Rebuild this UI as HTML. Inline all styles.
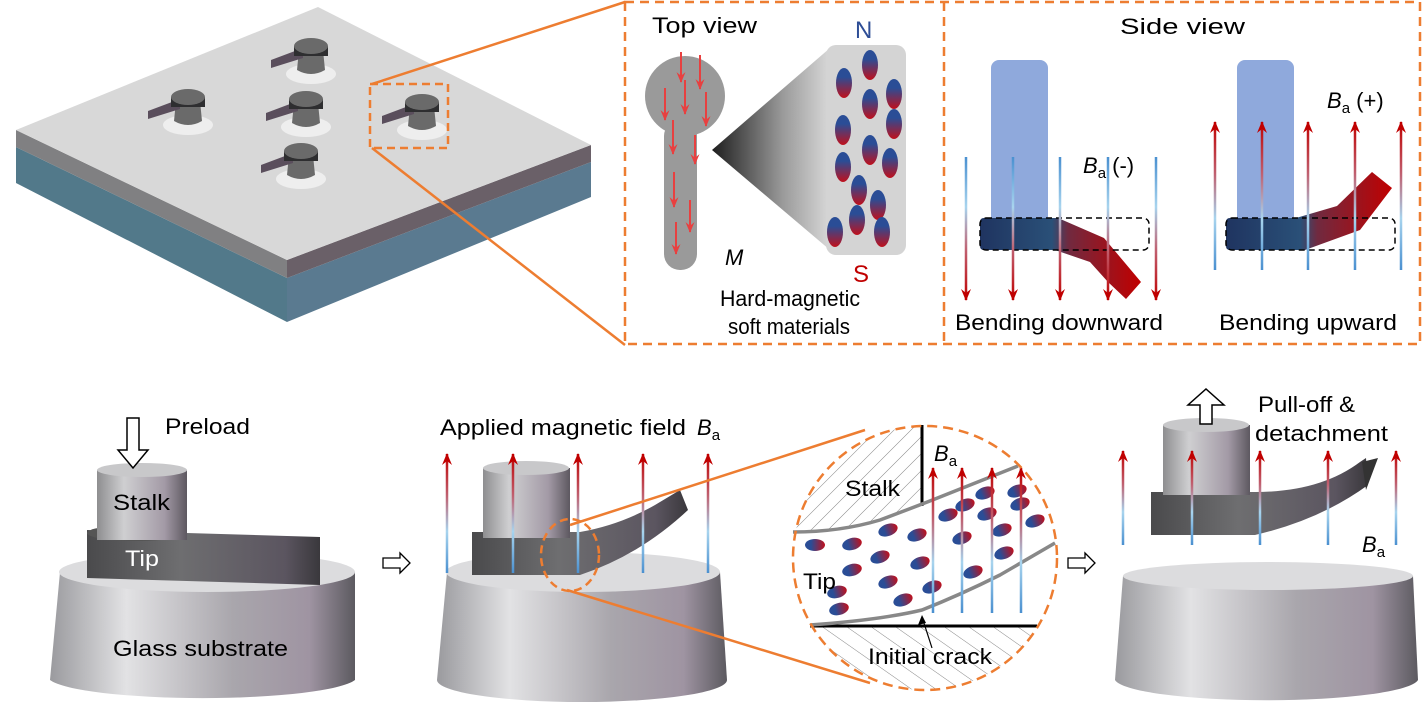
<!DOCTYPE html>
<html><head><meta charset="utf-8"><style>
html,body{margin:0;padding:0;background:#fff;}
svg{display:block;font-family:"Liberation Sans",Arial,sans-serif;}
</style></head><body>
<svg width="1424" height="707" viewBox="0 0 1424 707" xmlns="http://www.w3.org/2000/svg">
<defs>
<linearGradient id="cyl" x1="0" x2="1" y1="0" y2="0">
<stop offset="0" stop-color="#9a9a9e"/><stop offset="0.25" stop-color="#e2e2e4"/><stop offset="0.6" stop-color="#a9a6ac"/><stop offset="0.85" stop-color="#9f94a2"/><stop offset="1" stop-color="#5c5a60"/></linearGradient>
<linearGradient id="stalk" x1="0" x2="1"><stop offset="0" stop-color="#8e8e90"/><stop offset="0.3" stop-color="#cfcfd1"/><stop offset="0.75" stop-color="#a39aa6"/><stop offset="1" stop-color="#5d5860"/></linearGradient>
<linearGradient id="tip" x1="0" x2="1"><stop offset="0" stop-color="#4a4a4c"/><stop offset="0.4" stop-color="#6e6e70"/><stop offset="0.85" stop-color="#5b5560"/><stop offset="1" stop-color="#3a383c"/></linearGradient>
<linearGradient id="upA" x1="0" y1="1" x2="0" y2="0"><stop offset="0" stop-color="#4a90d0"/><stop offset="0.35" stop-color="#a8d4ee"/><stop offset="0.65" stop-color="#c06070"/><stop offset="1" stop-color="#c00000"/></linearGradient>
<linearGradient id="dnA" x1="0" y1="0" x2="0" y2="1"><stop offset="0" stop-color="#4a90d0"/><stop offset="0.35" stop-color="#a8d4ee"/><stop offset="0.65" stop-color="#c06070"/><stop offset="1" stop-color="#c00000"/></linearGradient>
<linearGradient id="part" x1="0" y1="0" x2="0" y2="1"><stop offset="0.3" stop-color="#2a4d96"/><stop offset="1" stop-color="#c0101c"/></linearGradient>
<linearGradient id="partH" x1="0" y1="0" x2="1" y2="0"><stop offset="0.3" stop-color="#2a4d96"/><stop offset="1" stop-color="#c0101c"/></linearGradient>
<linearGradient id="cone" x1="0" x2="1"><stop offset="0" stop-color="#1e1e1e"/><stop offset="0.6" stop-color="#9a9a9a"/><stop offset="1" stop-color="#d8d8d8"/></linearGradient>
<linearGradient id="beamL" x1="980" x2="1140" y1="0" y2="0" gradientUnits="userSpaceOnUse"><stop offset="0" stop-color="#1f3460"/><stop offset="0.45" stop-color="#2a5078"/><stop offset="0.55" stop-color="#702a40"/><stop offset="1" stop-color="#c00000"/></linearGradient>
<linearGradient id="beamR" x1="1226" x2="1392" y1="0" y2="0" gradientUnits="userSpaceOnUse"><stop offset="0" stop-color="#1f3460"/><stop offset="0.45" stop-color="#2a5078"/><stop offset="0.55" stop-color="#702a40"/><stop offset="1" stop-color="#c00000"/></linearGradient>
<pattern id="hatch" width="12" height="12" patternUnits="userSpaceOnUse" patternTransform="rotate(45)"><line x1="0" y1="0" x2="0" y2="12" stroke="#888" stroke-width="1"/></pattern>
<pattern id="hatch2" width="14" height="14" patternUnits="userSpaceOnUse" patternTransform="rotate(-55)"><line x1="0" y1="0" x2="0" y2="14" stroke="#888" stroke-width="1"/></pattern>
<clipPath id="zc"><circle cx="925" cy="558" r="132"/></clipPath>
<marker id="rh" viewBox="0 0 12 10" refX="11" refY="5" markerWidth="13" markerHeight="10" orient="auto" markerUnits="userSpaceOnUse"><path d="M0,0 L12,5 L0,10 L4,5 Z" fill="#c00000"/></marker>
<marker id="rh2" viewBox="0 0 12 10" refX="11" refY="5" markerWidth="11" markerHeight="9" orient="auto" markerUnits="userSpaceOnUse"><path d="M0,0 L12,5 L0,10 L4,5 Z" fill="#e84040"/></marker>
<g id="post">
<ellipse cx="0" cy="28" rx="25" ry="10" fill="#eee"/>
<path d="M-12,4 L-14,24 Q0,32 14,24 L12,4 Z" fill="#6a6a6a"/>
<path d="M-40,14 L-8,2 L-8,12 L-40,22 Z" fill="#5a4e5c"/>
<rect x="-17" y="0" width="34" height="10" fill="#2e2e30"/>
<ellipse cx="0" cy="0" rx="17" ry="8" fill="#6a6a6a"/>
</g>
</defs>

<!-- top-left plate -->
<polygon points="16,147 287,278 287,322 16,183" fill="#52798a"/>
<polygon points="287,278 591,162 591,197 287,322" fill="#5a7a90"/>
<polygon points="16,130 287,260 287,278 16,147" fill="#808082"/>
<polygon points="287,260 591,145 591,162 287,278" fill="#6a6068"/>
<polygon points="16,130 318,7 591,145 287,260" fill="#d8d8d8"/>
<use href="#post" x="188" y="97"/>
<use href="#post" x="311" y="46"/>
<use href="#post" x="306" y="99"/>
<use href="#post" x="301" y="151"/>
<use href="#post" x="422" y="102"/>
<rect x="370" y="84" width="78" height="64" fill="none" stroke="#ed7d31" stroke-width="2.5" stroke-dasharray="8,5"/>
<line x1="372" y1="84" x2="625" y2="2" stroke="#ed7d31" stroke-width="2.5"/>
<line x1="372" y1="148" x2="625" y2="345" stroke="#ed7d31" stroke-width="2.5"/>

<!-- big dashed box -->
<rect x="625" y="2" width="795" height="342" fill="none" stroke="#ed7d31" stroke-width="2.5" stroke-dasharray="9,6"/>
<line x1="944" y1="2" x2="944" y2="344" stroke="#ed7d31" stroke-width="2.5" stroke-dasharray="9,6"/>

<!-- Top view -->
<text x="652" y="33" font-size="22" textLength="105" lengthAdjust="spacingAndGlyphs">Top view</text>
<polygon points="712,150 830,48 830,250" fill="url(#cone)"/>
<rect x="826" y="45" width="80" height="210" rx="10" fill="#d4d4d4"/>
<circle cx="685" cy="96" r="40" fill="#9a9a9a"/>
<rect x="664" y="120" width="33" height="150" rx="16" fill="#9a9a9a"/>
<g stroke="#e84040" stroke-width="2" fill="none" marker-end="url(#rh2)">
<line x1="681" y1="52" x2="681" y2="82"/><line x1="700" y1="55" x2="700" y2="89"/>
<line x1="665" y1="88" x2="665" y2="120"/><line x1="685" y1="80" x2="685" y2="114"/><line x1="706" y1="92" x2="706" y2="126"/>
<line x1="673" y1="120" x2="673" y2="154"/><line x1="695" y1="135" x2="695" y2="164"/>
<line x1="674" y1="172" x2="674" y2="207"/><line x1="690" y1="200" x2="690" y2="232"/><line x1="676" y1="222" x2="676" y2="254"/>
</g>
<g fill="url(#part)">
<ellipse cx="844" cy="83" rx="8" ry="15"/><ellipse cx="870" cy="65" rx="8" ry="15"/><ellipse cx="894" cy="94" rx="8" ry="15"/>
<ellipse cx="870" cy="104" rx="8" ry="15"/><ellipse cx="843" cy="130" rx="8" ry="15"/><ellipse cx="894" cy="124" rx="8" ry="15"/>
<ellipse cx="870" cy="150" rx="8" ry="15"/><ellipse cx="843" cy="167" rx="8" ry="15"/><ellipse cx="890" cy="163" rx="8" ry="15"/>
<ellipse cx="859" cy="190" rx="8" ry="15"/><ellipse cx="878" cy="205" rx="8" ry="15"/><ellipse cx="857" cy="220" rx="8" ry="15"/>
<ellipse cx="835" cy="232" rx="8" ry="15"/><ellipse cx="882" cy="232" rx="8" ry="15"/>
</g>
<text x="855" y="38" font-size="24" fill="#2e4e96">N</text>
<text x="853" y="282" font-size="24" fill="#c00000">S</text>
<text x="725" y="265" font-size="22" font-style="italic">M</text>
<text x="720" y="306" font-size="22" textLength="140" lengthAdjust="spacingAndGlyphs">Hard-magnetic</text>
<text x="728" y="334" font-size="22" textLength="122" lengthAdjust="spacingAndGlyphs">soft materials</text>

<!-- Side view -->
<text x="1120" y="34" font-size="22" textLength="125" lengthAdjust="spacingAndGlyphs">Side view</text>
<rect x="991" y="60" width="57" height="175" rx="8" fill="#8fa9dc"/>
<rect x="1237" y="60" width="57" height="175" rx="8" fill="#8fa9dc"/>
<path d="M984,218 L1058,218 L1104,238 L1141,282 L1126,299 L1108,282 L1090,262 L1055,250 L984,250 Q980,250 980,246 L980,222 Q980,218 984,218Z" fill="url(#beamL)"/>
<path d="M1230,218 L1296,218 L1337,206 L1372,172 L1392,188 L1360,230 L1305,250 L1230,250 Q1226,250 1226,246 L1226,222 Q1226,218 1230,218Z" fill="url(#beamR)"/>
<rect x="980" y="218" width="169" height="32" rx="6" fill="none" stroke="#000" stroke-width="1.5" stroke-dasharray="6,4"/>
<rect x="1226" y="218" width="169" height="32" rx="6" fill="none" stroke="#000" stroke-width="1.5" stroke-dasharray="6,4"/>
<g stroke="url(#dnA)" stroke-width="2.5" marker-end="url(#rh)">
<line x1="966" y1="157" x2="966.01" y2="300"/><line x1="1013" y1="157" x2="1013.01" y2="300"/><line x1="1060" y1="157" x2="1060.01" y2="300"/><line x1="1108" y1="157" x2="1108.01" y2="300"/><line x1="1156" y1="157" x2="1156.01" y2="300"/>
</g>
<g stroke="url(#upA)" stroke-width="2.5" marker-end="url(#rh)">
<line x1="1215" y1="270" x2="1215.01" y2="122"/><line x1="1262" y1="270" x2="1262.01" y2="122"/><line x1="1308" y1="270" x2="1308.01" y2="122"/><line x1="1355" y1="270" x2="1355.01" y2="122"/><line x1="1401" y1="270" x2="1401.01" y2="122"/>
</g>
<text x="1083" y="173" font-size="22"><tspan font-style="italic">B</tspan><tspan font-size="15" dy="5">a</tspan><tspan dy="-5"> (-)</tspan></text>
<text x="1327" y="108" font-size="22"><tspan font-style="italic">B</tspan><tspan font-size="15" dy="5">a</tspan><tspan dy="-5"> (+)</tspan></text>
<text x="955" y="330" font-size="22" textLength="208" lengthAdjust="spacingAndGlyphs">Bending downward</text>
<text x="1219" y="330" font-size="22" textLength="178" lengthAdjust="spacingAndGlyphs">Bending upward</text>

<!-- Panel 1 -->
<path d="M60,572 L50,680 A155,22 0 0 0 355,680 L355,572 Z" fill="url(#cyl)"/>
<ellipse cx="207" cy="572" rx="148" ry="20" fill="#dcdcde"/>
<path d="M87,530 L320,537 L320,585 L87,578 Z" fill="url(#tip)"/>
<ellipse cx="136" cy="533" rx="49" ry="8" fill="#555"/>
<path d="M97,470 L187,470 L187,540 L97,540 Z" fill="url(#stalk)"/>
<ellipse cx="142" cy="470" rx="45" ry="7" fill="#c8c8ca"/>
<path d="M127,418 L139,418 L139,450 L148,450 L133,468 L118,450 L127,450 Z" fill="#fff" stroke="#000" stroke-width="1.5"/>
<text x="165" y="434" font-size="22" textLength="85" lengthAdjust="spacingAndGlyphs">Preload</text>
<text x="113" y="510" font-size="22" textLength="57" lengthAdjust="spacingAndGlyphs">Stalk</text>
<text x="125" y="566" font-size="22" fill="#fff" textLength="34" lengthAdjust="spacingAndGlyphs">Tip</text>
<text x="113" y="656" font-size="22" textLength="175" lengthAdjust="spacingAndGlyphs">Glass substrate</text>
<path d="M383,558 L400,558 L400,553 L410,563 L400,573 L400,568 L383,568 Z" fill="#fff" stroke="#000" stroke-width="1.3"/>

<!-- Panel 2 -->
<path d="M447,572 L437,680 A145,22 0 0 0 727,680 L720,572 Z" fill="url(#cyl)"/>
<ellipse cx="583" cy="572" rx="137" ry="20" fill="#dcdcde"/>
<path d="M472,532 L580,532 Q620,525 655,505 L680,490 L688,510 Q640,555 580,575 L472,575 Z" fill="url(#tip)"/>
<path d="M483,468 L570,468 L570,538 L483,538 Z" fill="url(#stalk)"/>
<ellipse cx="526" cy="468" rx="43" ry="7" fill="#c8c8ca"/>
<g stroke="url(#upA)" stroke-width="2.5" marker-end="url(#rh)">
<line x1="447" y1="573" x2="447.01" y2="454"/><line x1="513" y1="573" x2="513.01" y2="454"/><line x1="578" y1="573" x2="578.01" y2="454"/><line x1="643" y1="573" x2="643.01" y2="454"/><line x1="708" y1="573" x2="708.01" y2="454"/>
</g>
<text x="440" y="435" font-size="22" textLength="246" lengthAdjust="spacingAndGlyphs">Applied magnetic field</text>
<text x="697" y="435" font-size="22"><tspan font-style="italic">B</tspan><tspan font-size="15" dy="5">a</tspan></text>
<ellipse cx="570" cy="555" rx="29" ry="36" fill="none" stroke="#ed7d31" stroke-width="2.5" stroke-dasharray="8,5"/>
<line x1="570" y1="525" x2="865" y2="430" stroke="#ed7d31" stroke-width="2.5"/>
<line x1="567" y1="590" x2="870" y2="683" stroke="#ed7d31" stroke-width="2.5"/>

<!-- zoom circle -->
<circle cx="925" cy="558" r="132" fill="#fff"/>
<g clip-path="url(#zc)">
<path d="M780,420 L922,420 L922,506 Q880,520 840,528 L780,532 Z" fill="url(#hatch)"/>
<rect x="780" y="626" width="290" height="80" fill="url(#hatch2)"/>
</g>
<line x1="922" y1="425" x2="922" y2="506" stroke="#000" stroke-width="3"/>
<line x1="810" y1="626" x2="1037" y2="626" stroke="#000" stroke-width="3"/>
<path d="M793,532 Q840,532 880,520 Q920,505 940,497 L1018,466" fill="none" stroke="#888" stroke-width="3.5"/>
<path d="M810,625 Q880,620 922,610 Q960,595 1000,575 L1055,543" fill="none" stroke="#888" stroke-width="3.5"/>
<g fill="url(#partH)">
<ellipse cx="815" cy="545" rx="10" ry="6"/><ellipse cx="852" cy="544" rx="10" ry="6" transform="rotate(-15 852 544)"/><ellipse cx="888" cy="530" rx="10" ry="6" transform="rotate(-20 888 530)"/>
<ellipse cx="917" cy="535" rx="10" ry="6" transform="rotate(-20 917 535)"/><ellipse cx="948" cy="515" rx="10" ry="6" transform="rotate(-20 948 515)"/><ellipse cx="962" cy="538" rx="10" ry="6" transform="rotate(-20 962 538)"/>
<ellipse cx="987" cy="514" rx="10" ry="6" transform="rotate(-20 987 514)"/><ellipse cx="1017" cy="491" rx="10" ry="6" transform="rotate(-20 1017 491)"/><ellipse cx="985" cy="493" rx="10" ry="6" transform="rotate(-20 985 493)"/>
<ellipse cx="1002" cy="530" rx="10" ry="6" transform="rotate(-20 1002 530)"/><ellipse cx="1035" cy="521" rx="10" ry="6" transform="rotate(-20 1035 521)"/>
<ellipse cx="852" cy="570" rx="10" ry="6" transform="rotate(-15 852 570)"/><ellipse cx="880" cy="557" rx="10" ry="6" transform="rotate(-20 880 557)"/><ellipse cx="920" cy="563" rx="10" ry="6" transform="rotate(-20 920 563)"/>
<ellipse cx="973" cy="572" rx="10" ry="6" transform="rotate(-20 973 572)"/><ellipse cx="1004" cy="553" rx="10" ry="6" transform="rotate(-20 1004 553)"/><ellipse cx="1020" cy="504" rx="10" ry="6" transform="rotate(-20 1020 504)"/>
<ellipse cx="837" cy="592" rx="10" ry="6" transform="rotate(-15 837 592)"/><ellipse cx="888" cy="582" rx="10" ry="6" transform="rotate(-20 888 582)"/><ellipse cx="932" cy="587" rx="10" ry="6" transform="rotate(-20 932 587)"/>
<ellipse cx="965" cy="505" rx="10" ry="6" transform="rotate(-20 965 505)"/><ellipse cx="903" cy="600" rx="10" ry="6" transform="rotate(-20 903 600)"/><ellipse cx="839" cy="609" rx="10" ry="6" transform="rotate(-15 839 609)"/>
</g>
<g stroke="url(#upA)" stroke-width="2.5" marker-end="url(#rh)">
<line x1="933" y1="613" x2="933.01" y2="468"/><line x1="962" y1="613" x2="962.01" y2="468"/><line x1="992" y1="613" x2="992.01" y2="468"/><line x1="1021" y1="613" x2="1021.01" y2="468"/>
</g>
<line x1="932" y1="648" x2="922" y2="617" stroke="#000" stroke-width="1.2"/>
<path d="M922,615 L918,625 L926,623 Z" fill="#000"/>
<circle cx="925" cy="558" r="132" fill="none" stroke="#ed7d31" stroke-width="2.5" stroke-dasharray="10,6"/>
<text x="845" y="496" font-size="22" textLength="55" lengthAdjust="spacingAndGlyphs">Stalk</text>
<text x="803" y="589" font-size="22" textLength="33" lengthAdjust="spacingAndGlyphs">Tip</text>
<text x="868" y="664" font-size="22" textLength="124" lengthAdjust="spacingAndGlyphs">Initial crack</text>
<text x="934" y="461" font-size="22"><tspan font-style="italic">B</tspan><tspan font-size="15" dy="5">a</tspan></text>
<path d="M1068,558 L1085,558 L1085,553 L1095,563 L1085,573 L1085,568 L1068,568 Z" fill="#fff" stroke="#000" stroke-width="1.3"/>

<!-- Panel 4 -->
<path d="M1123,576 L1115,680 A152,22 0 0 0 1418,680 L1413,576 Z" fill="url(#cyl)"/>
<ellipse cx="1268" cy="576" rx="145" ry="14" fill="#dcdcde"/>
<path d="M1151,492 L1255,492 Q1320,492 1360,462 L1366,458 L1368,485 Q1320,520 1255,535 L1151,535 Z" fill="url(#tip)"/>
<path d="M1362,462 L1378,458 L1366,490 Z" fill="#333"/>
<path d="M1163,425 L1250,425 L1250,495 L1163,495 Z" fill="url(#stalk)"/>
<ellipse cx="1206" cy="425" rx="43" ry="7" fill="#c8c8ca"/>
<path d="M1200,424 L1212,424 L1212,405 L1224,405 L1206,389 L1188,405 L1200,405 Z" fill="#fff" stroke="#000" stroke-width="1.5"/>
<g stroke="url(#upA)" stroke-width="2.5" marker-end="url(#rh)">
<line x1="1123" y1="545" x2="1123.01" y2="451"/><line x1="1192" y1="545" x2="1192.01" y2="451"/><line x1="1260" y1="545" x2="1260.01" y2="451"/><line x1="1328" y1="545" x2="1328.01" y2="451"/><line x1="1396" y1="545" x2="1396.01" y2="451"/>
</g>
<text x="1258" y="412" font-size="22" textLength="97" lengthAdjust="spacingAndGlyphs">Pull-off &amp;</text>
<text x="1255" y="441" font-size="22" textLength="133" lengthAdjust="spacingAndGlyphs">detachment</text>
<text x="1362" y="552" font-size="22"><tspan font-style="italic">B</tspan><tspan font-size="15" dy="5">a</tspan></text>
</svg>
</body></html>
